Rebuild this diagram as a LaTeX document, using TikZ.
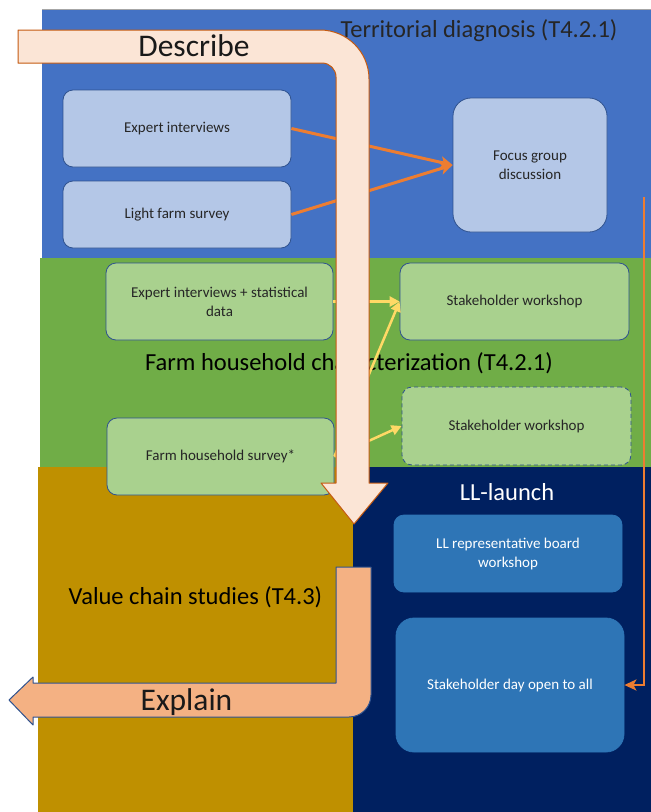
\documentclass[tikz,border=0pt]{standalone}
\usepackage{fontspec}
\setmainfont{Carlito}
\usetikzlibrary{arrows.meta}

\definecolor{tdblue}{HTML}{4472C4}
\definecolor{fhgreen}{HTML}{70AD47}
\definecolor{vcgold}{HTML}{BF9000}
\definecolor{llnavy}{HTML}{002060}
\definecolor{lightblue}{HTML}{B4C7E7}
\definecolor{lightgreen}{HTML}{A9D18E}
\definecolor{midblue}{HTML}{2E75B6}
\definecolor{boxline}{HTML}{2F528F}
\definecolor{peach}{HTML}{FBE5D6}
\definecolor{peachline}{HTML}{C55A11}
\definecolor{salmon}{HTML}{F4B183}
\definecolor{floworange}{HTML}{ED7D31}
\definecolor{flowyellow}{HTML}{FFD966}

\newcommand{\bxfont}{\fontsize{15}{19}\selectfont}
\newcommand{\bandfont}{\fontsize{24.5}{29}\selectfont}
\newcommand{\flowfont}{\fontsize{31.5}{36}\selectfont}

\begin{document}
\begin{tikzpicture}[x=1pt,y=-1pt,
  box/.style={draw=boxline, line width=0.8pt, rounded corners=10pt, align=center,
    font=\bxfont, text=black!85, inner sep=2pt},
  bluebox/.style={box, fill=lightblue},
  greenbox/.style={box, fill=lightgreen},
  navybox/.style={box, fill=midblue, draw=midblue, text=white},
  bandtitle/.style={font=\bandfont, inner sep=0pt, anchor=center},
  flowlabel/.style={font=\flowfont, inner sep=0pt, anchor=center, text=black!90},
  oarrow/.style={draw=floworange, line width=3pt, -{Stealth[length=12pt,width=12pt,inset=3pt]}},
  yarrow/.style={draw=flowyellow, line width=2.5pt, -{Triangle[length=10pt,width=10pt]}},
  oline/.style={draw=floworange, line width=2.3pt, -{Stealth[length=12pt,width=11pt,inset=3pt]}},
  bentarrow/.style={line width=1pt, line join=round}
]
\useasboundingbox (0,0) rectangle (651,812);
\fill[white] (0,0) rectangle (651,812);

% activity bands
\fill[tdblue]  (42,10)  rectangle (651,258);
\draw[gray!70, line width=0.8pt] (42,9) -- (651,9);
\fill[fhgreen] (40,258) rectangle (651,467);
\fill[vcgold]  (38,467) rectangle (353,812);
\fill[llnavy]  (353,467) rectangle (651,812);

% band titles
\node[bandtitle, text=black!85] (ttd) at (479,31) {Territorial diagnosis (T4.2.1)};
\node[bandtitle, text=black] (tfh) at (349,363) {Farm household characterization (T4.2.1)};
\node[bandtitle, text=black] (tvc) at (195.5,597) {Value chain studies (T4.3)};
\node[bandtitle, text=white] (tll) at (507,492) {LL-launch};

% territorial diagnosis activities
\node[bluebox, minimum width=228pt, minimum height=77pt] (expint) at (177,128.5) {Expert interviews};
\node[bluebox, minimum width=228pt, minimum height=67pt] (lightfs) at (177,214.5) {Light farm survey};
\node[bluebox, rounded corners=18pt, minimum width=154pt, minimum height=134pt] (focus) at (530,165) {Focus group\\discussion};

% farm household characterization activities
\node[greenbox, minimum width=227pt, minimum height=77pt] (expstat) at (219.5,301.5) {Expert interviews + statistical\\data};
\node[greenbox, minimum width=229pt, minimum height=77pt] (sw1) at (514.5,301.5) {Stakeholder workshop};
\node[greenbox, minimum width=227pt, minimum height=77pt] (fhs) at (220.5,456.5) {Farm household survey*};
\node[greenbox, dashed, dash pattern=on 4pt off 3pt, minimum width=229pt, minimum height=78pt] (sw2) at (516.5,426) {Stakeholder workshop};

% living lab launch activities
\node[navybox, minimum width=228pt, minimum height=77pt] (llboard) at (508,553.5) {LL representative board\\workshop};
\node[navybox, rounded corners=18pt, minimum width=228pt, minimum height=134pt] (sday) at (510,685) {Stakeholder day open to all};

% flows between activities
\draw[oarrow] (expint.east) -- (focus.west);
\draw[oarrow] (lightfs.east) -- (focus.west);
\draw[yarrow] (expstat.east) -- (sw1.west);
\draw[yarrow] (fhs.east) -- (sw1.west);
\draw[yarrow] (fhs.east) -- (sw2.west);
\coordinate (ostart) at (644,197);
\draw[oline] (ostart) |- (sday.east);

% "Describe" bent arrow
\filldraw[bentarrow, fill=peach, draw=peachline]
  (18,30) -- (320,30) arc[start angle=-90, end angle=0, radius=49]
  -- (369,483) -- (388,483) -- (354,524) -- (321,483) -- (336,483)
  -- (336,77) arc[start angle=0, end angle=-90, radius=14]
  -- (18,63) -- cycle;
\node[flowlabel] (describe) at (194,46) {Describe};

% "Explain" bent arrow
\filldraw[bentarrow, fill=salmon, draw=boxline]
  (336,567) -- (371,567) -- (371,695) arc[start angle=0, end angle=90, radius=22]
  -- (33,717) -- (33,725) -- (9,700) -- (33,677) -- (33,683) -- (336,683) -- cycle;
\node[flowlabel] (explain) at (186.5,702) {Explain};
\end{tikzpicture}
\end{document}
